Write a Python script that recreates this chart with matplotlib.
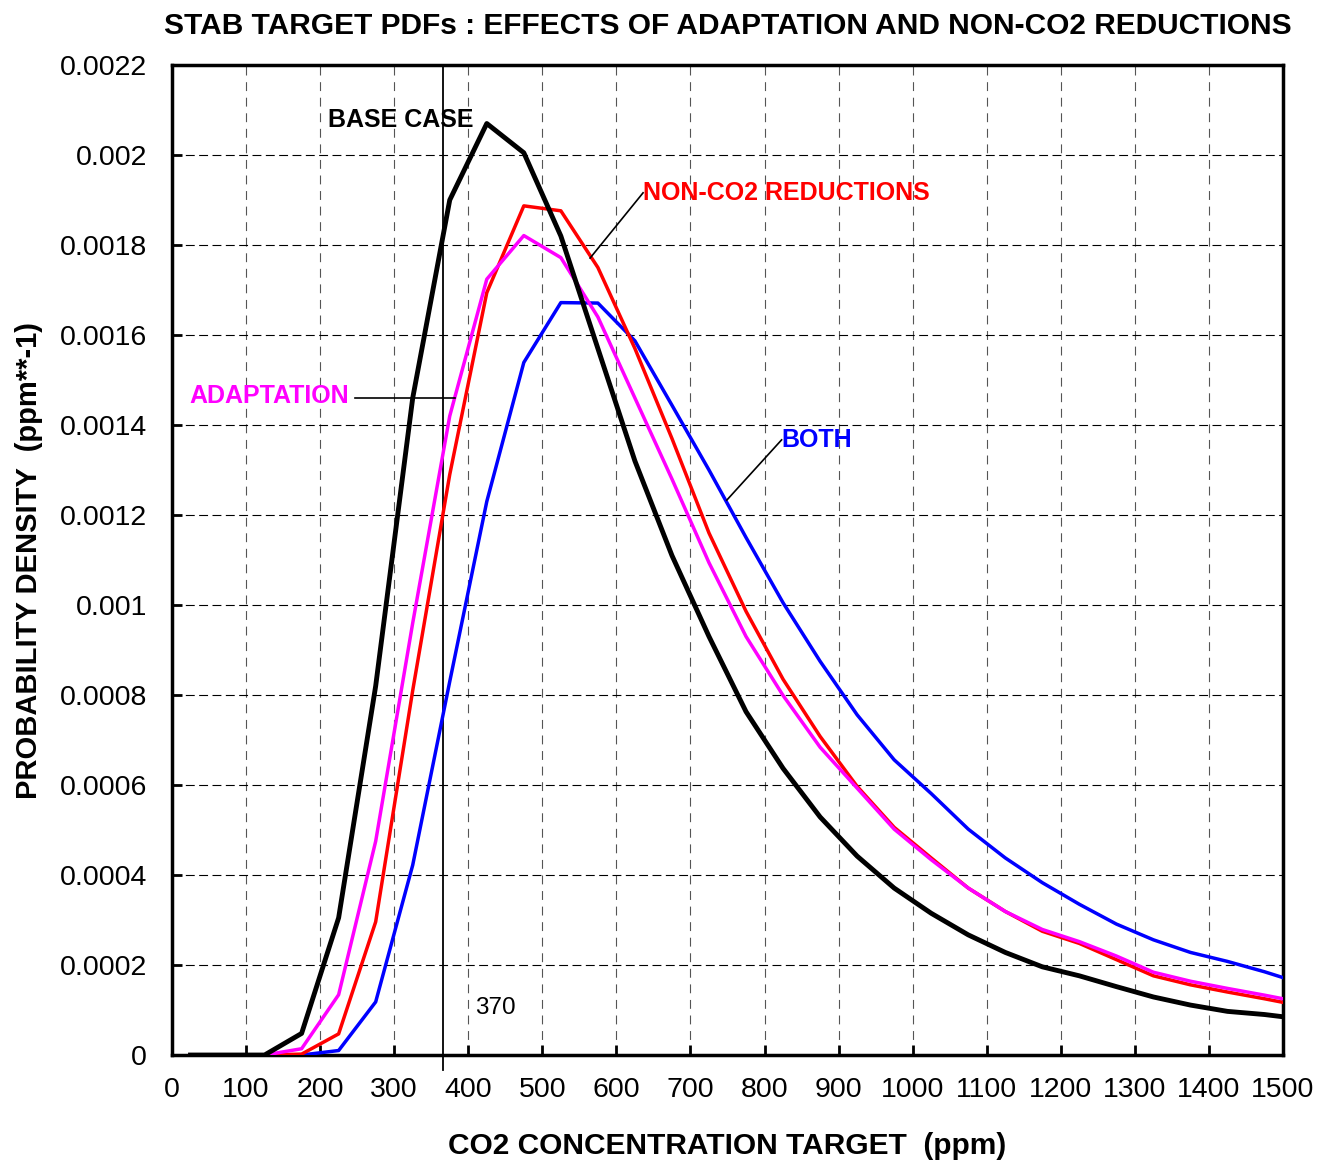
import matplotlib
matplotlib.use("Agg")
import matplotlib.pyplot as plt

plt.rcParams['font.family'] = ['Liberation Sans', 'DejaVu Sans']

# CO2 concentration target (ppm)
co2 = [25, 75, 125, 175, 225, 275, 325, 375, 425, 475, 525, 575, 625, 675, 725,
       775, 825, 875, 925, 975, 1025, 1075, 1125, 1175, 1225, 1275, 1325, 1375,
       1425, 1475, 1500]

base_case = [0, 0, 0, 0.000048, 0.000305, 0.00082, 0.00146, 0.0019, 0.00207,
             0.002005, 0.00182, 0.00157, 0.00132, 0.00111, 0.00093, 0.000763,
             0.000637, 0.000529, 0.000442, 0.000371, 0.000315, 0.000267,
             0.000228, 0.000196, 0.000176, 0.000152, 0.000129, 0.000111,
             0.000097, 0.00009, 0.000085]

non_co2 = [0, 0, 0, 0.000002, 0.000047, 0.000296, 0.00081, 0.00129, 0.001694,
           0.001887, 0.001876, 0.00175, 0.00157, 0.00137, 0.00116, 0.000986,
           0.000835, 0.000708, 0.000597, 0.000506, 0.000438, 0.000371,
           0.000319, 0.000275, 0.000248, 0.000212, 0.000176, 0.000156,
           0.00014, 0.000125, 0.000117]

adaptation = [0, 0, 0, 0.000014, 0.000134, 0.000475, 0.00096, 0.00142, 0.001724,
              0.001821, 0.001772, 0.00164, 0.00146, 0.00128, 0.001094, 0.00093,
              0.000799, 0.000684, 0.000593, 0.000502, 0.000434, 0.000371,
              0.000319, 0.000279, 0.000252, 0.00022, 0.000184, 0.000164,
              0.000148, 0.000133, 0.000125]

both = [0, 0, 0, 0, 0.00001, 0.000118, 0.000422, 0.00083, 0.00123, 0.001539,
        0.001672, 0.001671, 0.001587, 0.001444, 0.0013, 0.00115, 0.001005,
        0.000875, 0.000756, 0.000656, 0.000581, 0.000502, 0.000438, 0.000383,
        0.000335, 0.000291, 0.000256, 0.000228, 0.000208, 0.000185, 0.000172]

x_ticks = list(range(0, 1501, 100))
y_ticks = [0, 0.0002, 0.0004, 0.0006, 0.0008, 0.001, 0.0012, 0.0014, 0.0016,
           0.0018, 0.002, 0.0022]
y_tick_labels = ['0', '0.0002', '0.0004', '0.0006', '0.0008', '0.001', '0.0012',
                 '0.0014', '0.0016', '0.0018', '0.002', '0.0022']

fig = plt.figure(figsize=(13.26, 11.65), dpi=100)
ax = fig.add_axes([0.1297, 0.0944, 0.9676 - 0.1297, 0.9442 - 0.0944])

ax.plot(co2, both, color='#0000ff', lw=2.5, zorder=3)
ax.plot(co2, non_co2, color='#ff0000', lw=2.5, zorder=4)
ax.plot(co2, adaptation, color='#ff00ff', lw=2.5, zorder=5)
ax.plot(co2, base_case, color='black', lw=3.5, zorder=6)

ax.set_xlim(0, 1500)
ax.set_ylim(0, 0.0022)
ax.set_xticks(x_ticks)
ax.set_yticks(y_ticks)
ax.set_yticklabels(y_tick_labels)

# grid
ax.xaxis.grid(True, color='#555555', linestyle=(0, (8, 6)), linewidth=0.8)
ax.yaxis.grid(True, color='black', linestyle=(0, (8, 4)), linewidth=0.8)
ax.set_axisbelow(True)

for s in ax.spines.values():
    s.set_linewidth(2.5)
ax.tick_params(direction='in', length=7, width=2, labelsize=20.5, pad=16)
ax.tick_params(axis='y', pad=18)

# 370 ppm line
ax.axvline(366, ymin=-0.015, ymax=1, color='black', lw=1.3, clip_on=False, zorder=2)
ax.text(437, 0.000104, '370', fontsize=17.5, ha='center', va='center')

# labels on curves
ax.text(211, 0.002078, 'BASE CASE', fontsize=18, fontweight='bold', va='center')
ax.text(636, 0.001916, 'NON-CO2 REDUCTIONS', fontsize=18, fontweight='bold',
        color='#ff0000', va='center')
ax.plot([636, 564.5], [0.001916, 0.001771], color='black', lw=1.2, zorder=7)
ax.text(24, 0.001464, 'ADAPTATION', fontsize=18, fontweight='bold',
        color='#ff00ff', va='center')
ax.plot([247, 382], [0.00146, 0.00146], color='black', lw=1.2, zorder=7)
ax.text(823, 0.001367, 'BOTH', fontsize=18, fontweight='bold',
        color='#0000ff', va='center')
ax.plot([823, 749], [0.001367, 0.001233], color='black', lw=1.2, zorder=7)

ax.set_title('STAB TARGET PDFs : EFFECTS OF ADAPTATION AND NON-CO2 REDUCTIONS',
             fontsize=21.5, fontweight='bold', pad=22)
ax.set_xlabel('CO2 CONCENTRATION TARGET  (ppm)', fontsize=21.5, fontweight='bold',
              labelpad=21)
ax.set_ylabel('PROBABILITY DENSITY  (ppm**-1)', fontsize=21, fontweight='bold',
              labelpad=12)

fig.savefig('out.png', dpi=100)
